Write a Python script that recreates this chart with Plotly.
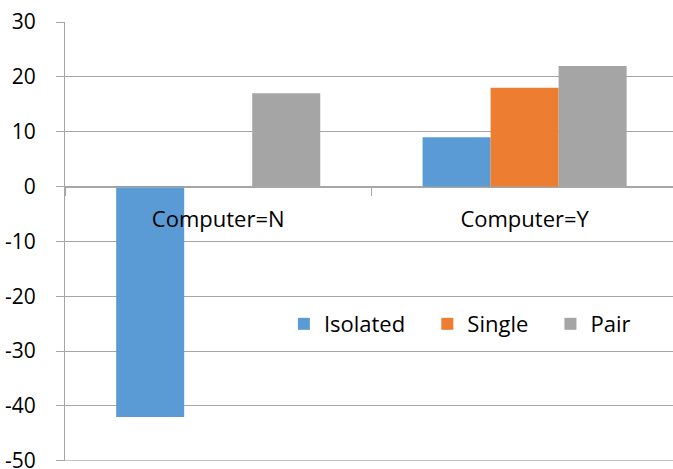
import plotly.graph_objects as go

categories = ["Computer=N", "Computer=Y"]
isolated = [-42, 9]
single = [None, 18]
pair = [17, 22]
y_ticks = [-50, -40, -30, -20, -10, 0, 10, 20, 30]
series_names = ["Isolated", "Single", "Pair"]

FONT = "Open Sans"
GRID = "#a6a6a6"
PAD = "\u00a0\u00a0\u00a0"

fig = go.Figure()
fig.add_trace(go.Bar(name=series_names[0] + PAD, x=categories, y=isolated, marker=dict(color="#5b9bd5", line=dict(width=0))))
fig.add_trace(go.Bar(name=series_names[1] + PAD, x=categories, y=single, marker=dict(color="#ed7d31", line=dict(width=0))))
fig.add_trace(go.Bar(name=series_names[2], x=categories, y=pair, marker=dict(color="#a5a5a5", line=dict(width=0))))

fig.update_layout(
    width=673, height=469,
    margin=dict(l=65, r=0, t=22, b=8, autoexpand=False),
    paper_bgcolor="white", plot_bgcolor="white",
    barmode="group", bargap=0.334, bargroupgap=0,
    font=dict(family=FONT, size=22, color="#000000"),
    showlegend=True,
    legend=dict(orientation="h", x=0.36, xanchor="left", y=0.312, yanchor="middle",
                font=dict(family=FONT, size=22, color="#000000"), bgcolor="rgba(0,0,0,0)",
                traceorder="normal"),
    xaxis=dict(
        type="category", range=[-0.5, 1.4843],
        anchor="free", position=0.625, automargin=False,
        showline=True, linecolor=GRID, linewidth=1,
        ticks="outside", tickson="boundaries", ticklen=8, tickcolor=GRID, tickwidth=1,
        ticklabelstandoff=13,
        showgrid=False, tickfont=dict(family=FONT, size=22, color="#000000"),
        layer="above traces",
    ),
    yaxis=dict(
        range=[-50.03, 30], tickvals=y_ticks, ticktext=[str(v) for v in y_ticks],
        automargin=False,
        showgrid=True, gridcolor=GRID, gridwidth=1,
        zeroline=False,
        showline=True, linecolor=GRID, linewidth=1,
        ticks="outside", ticklen=8, tickcolor=GRID, tickwidth=1,
        ticklabelstandoff=16, ticklabeloverflow="allow",
        tickfont=dict(family=FONT, size=21, color="#000000"),
    ),
)

fig.add_hline(y=-50, line=dict(color=GRID, width=1), layer="below")

fig.write_html("out.html")
